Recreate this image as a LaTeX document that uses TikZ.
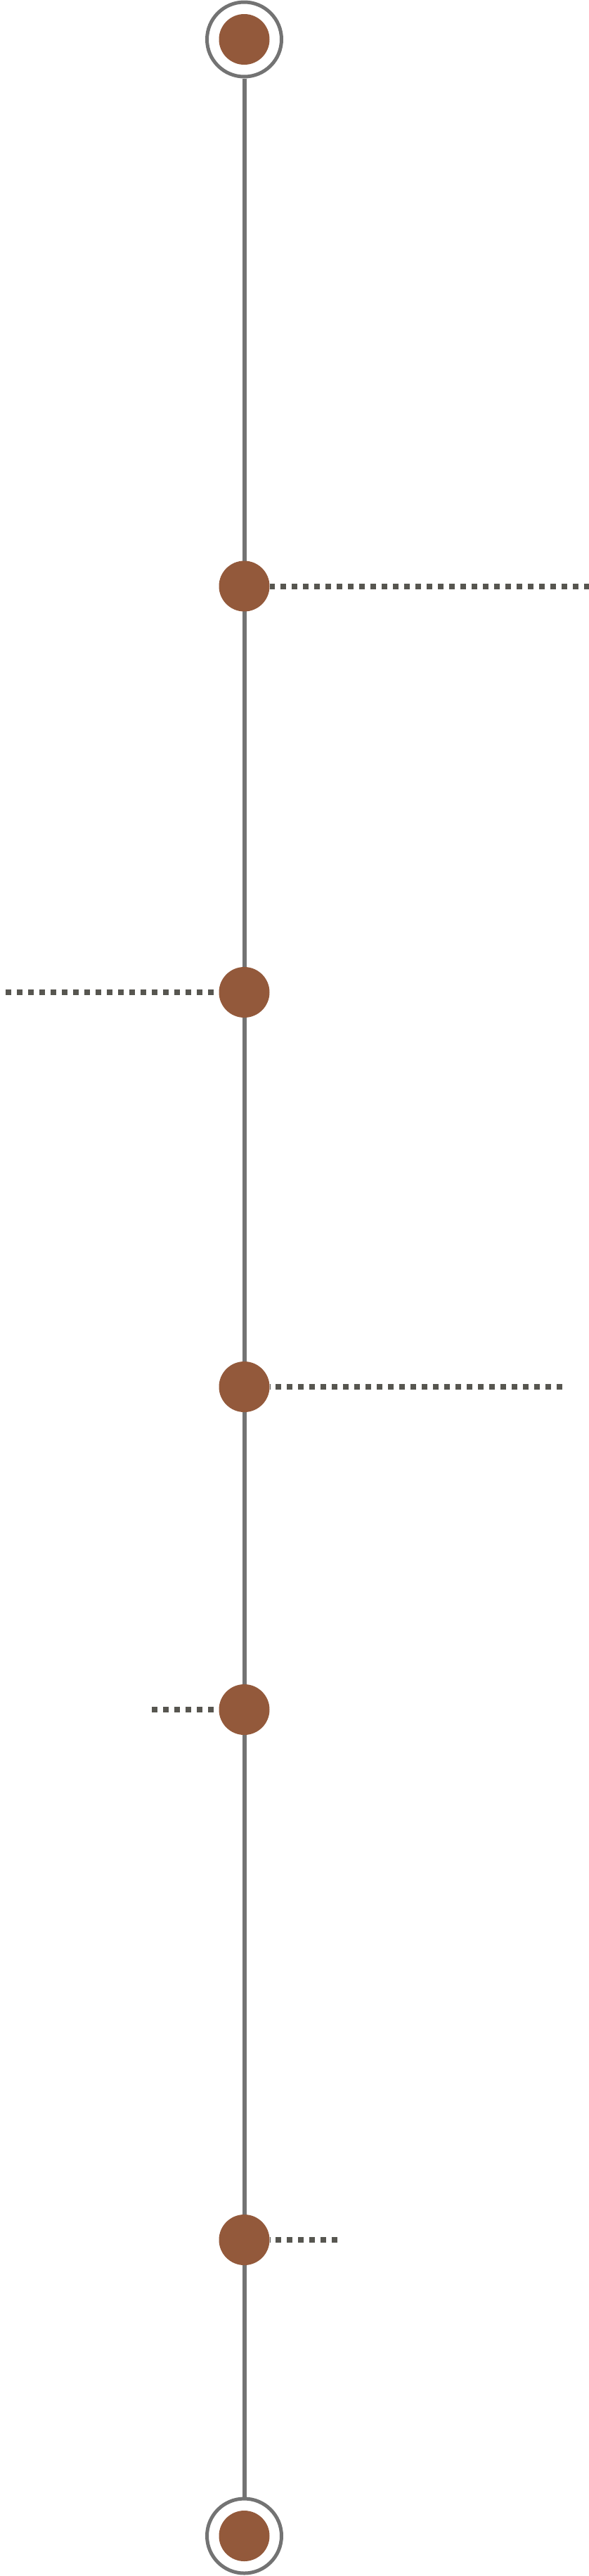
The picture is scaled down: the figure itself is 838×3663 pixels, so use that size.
\documentclass[tikz,border=0pt]{standalone}
\usepackage{xcolor}
\definecolor{spinegray}{RGB}{115,115,115}
\definecolor{leadergray}{RGB}{87,86,80}
\definecolor{stopbrown}{RGB}{147,89,59}

\begin{document}
\begin{tikzpicture}[x=1pt, y=-1pt,
    endring/.style={circle, draw=spinegray, line width=5pt, minimum size=106pt, inner sep=0pt},
    milestone/.style={circle, fill=stopbrown, draw=none, minimum size=72pt, inner sep=0pt},
    leader/.style={draw=leadergray, line width=8pt, dash pattern=on 8pt off 8pt}]

        \def\axis{347.5}

        \useasboundingbox (0,0) rectangle (838,3663);

        \node[endring] (start) at (\axis,56) {};
        \node[endring] (finish) at (\axis,3606) {};

        \draw[spinegray, line width=6pt] (start) -- (finish);

        \node[milestone] (s0) at (\axis,56) {};
        \node[milestone] (s6) at (\axis,3606) {};

        \foreach \i/\y in {1/833.5, 2/1411, 3/1972, 4/2431, 5/3185} {%
            \node[milestone] (s\i) at (\axis,\y) {};%
        }

        \coordinate (e1) at (838.7,833.5);
        \coordinate (e2) at (8,1411);
        \coordinate (e3) at (800,1972);
        \coordinate (e4) at (216,2431);
        \coordinate (e5) at (480,3185);

        \draw[leader] (e1) -- (s1.east);
        \draw[leader] (e2) -- (s2.west);
        \draw[leader] (e3) -- (s3.east);
        \draw[leader] (e4) -- (s4.west);
        \draw[leader] (e5) -- (s5.east);

    \end{tikzpicture}
\end{document}
